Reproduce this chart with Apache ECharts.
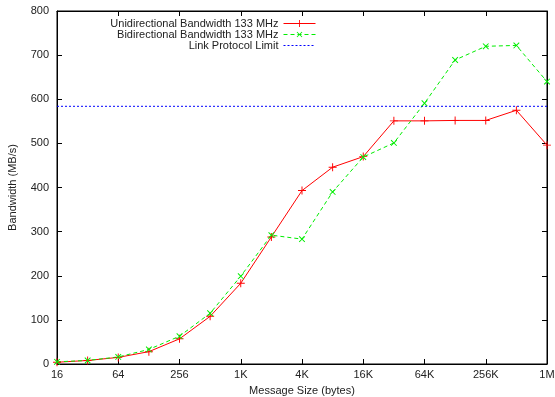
<!DOCTYPE html>
<html>
<head>
<meta charset="utf-8">
<script src="https://cdn.jsdelivr.net/npm/echarts@6/dist/echarts.min.js"></script>
<style>
  html, body { margin: 0; padding: 0; background: #fff; }
  #chart { width: 555px; height: 397px; }
</style>
</head>
<body>
<div id="chart"></div>
<script>
// message sizes in bytes (16 .. 1M)
var sizes = [16, 32, 64, 128, 256, 512, 1024, 2048, 4096, 8192, 16384, 32768, 65536, 131072, 262144, 524288, 1048576];
// bandwidth in MB/s
var uniBandwidth = [4, 8, 15, 28, 57, 108, 183, 288, 393, 446, 470, 551, 551, 552, 552, 575, 496];
var biBandwidth = [5, 8, 16, 33, 63, 115, 199, 292, 283, 390, 469, 501, 591, 689, 720, 722, 640];
var linkLimit = 584;
var seriesNames = ['Unidirectional Bandwidth 133 MHz', 'Bidirectional Bandwidth 133 MHz', 'Link Protocol Limit'];

var RED = '#ff0000', GREEN = '#00ee00', BLUE = '#0000ff';
var plusPath = 'path://M4.4,0H5.6V4.4H10V5.6H5.6V10H4.4V5.6H0V4.4H4.4Z';

function pairs(ys) {
  var out = [];
  for (var i = 0; i < sizes.length; i++) out.push([sizes[i], ys[i]]);
  return out;
}

function sizeLabel(v) {
  if (v >= 1048576) return (v / 1048576) + 'M';
  if (v >= 1024) return (v / 1024) + 'K';
  return String(v);
}

var font = 'Liberation Sans, Arial, sans-serif';
var axisCommon = {
  axisLine: { show: true, onZero: false, lineStyle: { color: '#000', width: 1 } },
  axisTick: { show: true, inside: true, length: 5, lineStyle: { color: '#000' } },
  splitLine: { show: false }
};

var chart = echarts.init(document.getElementById('chart'));
var option = {
  backgroundColor: '#fff',
  animation: false,
  textStyle: { fontFamily: font },
  grid: {
    left: 57, right: 8, top: 11, bottom: 33,
    outerBoundsMode: 'none',
    show: true, borderColor: '#000', borderWidth: 1
  },
  legend: {
    data: [
      {
        name: seriesNames[0],
        itemStyle: { color: RED, borderColor: RED, borderWidth: 0, opacity: 1 },
        lineStyle: { color: RED, width: 1, type: 'solid', opacity: 1 }
      },
      {
        name: seriesNames[1],
        itemStyle: { color: GREEN, borderColor: GREEN, borderWidth: 0, opacity: 1 },
        lineStyle: { color: GREEN, width: 1, type: [4, 3], opacity: 1 }
      },
      {
        name: seriesNames[2],
        itemStyle: { color: 'transparent', borderColor: 'transparent', borderWidth: 0 },
        lineStyle: { color: BLUE, width: 1, type: [2, 2], opacity: 1 }
      }
    ],
    right: 234,
    top: 13,
    orient: 'vertical',
    align: 'right',
    itemWidth: 32,
    itemHeight: 9,
    itemGap: 0,
    textStyle: { fontSize: 11, color: '#222', fontFamily: font }
  },
  xAxis: [
    Object.assign({}, axisCommon, {
      type: 'log', logBase: 4, min: 16, max: 1048576, splitNumber: 8,
      name: 'Message Size (bytes)', nameLocation: 'middle', nameGap: 21,
      nameTextStyle: { fontSize: 11, color: '#222' },
      axisLabel: { fontSize: 11, color: '#222', margin: 5, formatter: sizeLabel }
    }),
    Object.assign({}, axisCommon, {
      type: 'log', logBase: 4, min: 16, max: 1048576, splitNumber: 8,
      position: 'top', axisLabel: { show: false }
    })
  ],
  yAxis: [
    Object.assign({}, axisCommon, {
      type: 'value', min: 0, max: 800, interval: 100,
      name: 'Bandwidth (MB/s)', nameLocation: 'middle', nameGap: 39,
      nameTextStyle: { fontSize: 11, color: '#222' },
      axisLabel: { fontSize: 11, color: '#222', margin: 8 }
    }),
    Object.assign({}, axisCommon, {
      type: 'value', min: 0, max: 800, interval: 100,
      position: 'right', axisLabel: { show: false }
    })
  ],
  series: [
    {
      name: seriesNames[0], type: 'line', data: pairs(uniBandwidth),
      symbol: plusPath, symbolSize: 8,
      color: RED,
      lineStyle: { color: RED, width: 1 },
      itemStyle: { color: RED, borderColor: RED, borderWidth: 0 }
    },
    {
      name: seriesNames[1], type: 'line', data: pairs(biBandwidth),
      symbol: plusPath, symbolSize: 8, symbolRotate: 45,
      color: GREEN,
      lineStyle: { color: GREEN, width: 1, type: [4, 3] },
      itemStyle: { color: GREEN, borderColor: GREEN, borderWidth: 0 }
    },
    {
      name: seriesNames[2], type: 'line',
      data: [[sizes[0], linkLimit], [sizes[sizes.length - 1], linkLimit]],
      symbol: 'none',
      color: BLUE,
      lineStyle: { color: BLUE, width: 1, type: [2, 2] }
    }
  ]
};
chart.setOption(option);
</script>
</body>
</html>
